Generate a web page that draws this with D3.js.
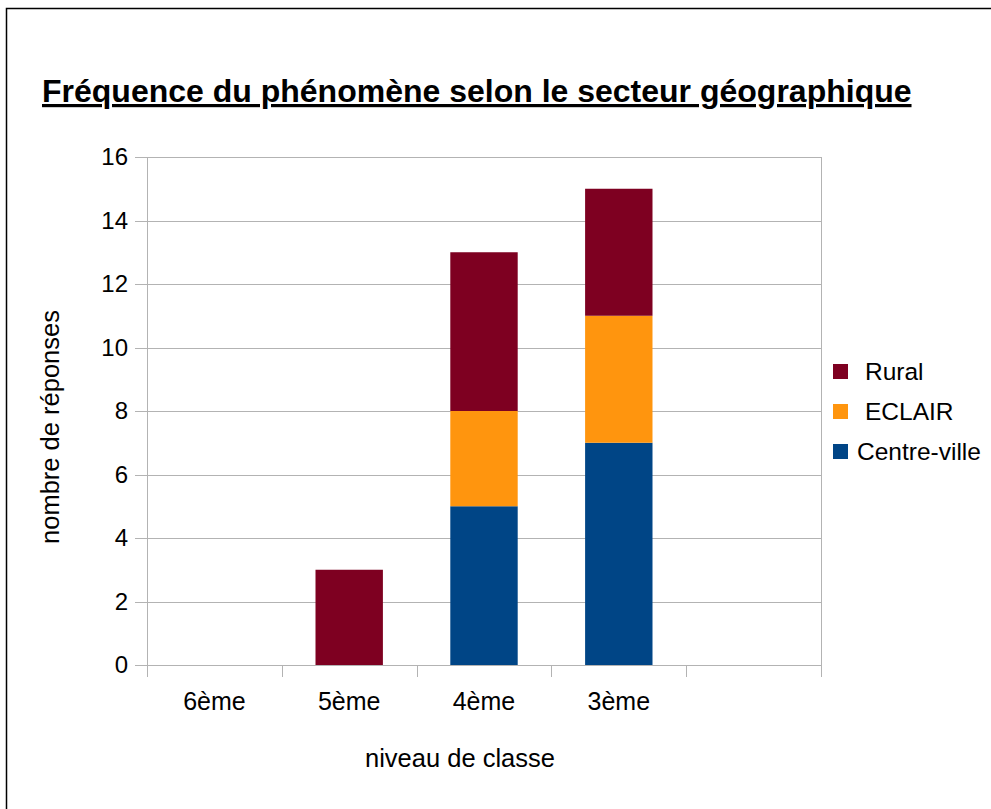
<!DOCTYPE html>
<html>
<head>
<meta charset="utf-8">
<script src="https://cdn.jsdelivr.net/npm/d3@7"></script>
<style>
  body { margin: 0; background: #fff; }
  text { font-family: "Liberation Sans", Arial, sans-serif; fill: #000; }
</style>
</head>
<body>
<div id="chart"></div>
<script>
// data
const categories = ["6ème", "5ème", "4ème", "3ème", ""]
const centreVille = [0, 0, 5, 7, 0]
const eclair = [0, 0, 3, 4, 0]
const rural = [0, 3, 5, 4, 0]
const seriesNames = ["Centre-ville", "ECLAIR", "Rural"]
const seriesColors = ["#004586", "#ff950e", "#7e0021"]
const yTicks = [0, 2, 4, 6, 8, 10, 12, 14, 16]

const outerWidth = 991
const outerHeight = 809
const margin = {top: 157, bottom: 144, left: 147, right: 170}
const width = outerWidth - margin.left - margin.right
const height = outerHeight - margin.top - margin.bottom

const svg = d3.select("#chart")
    .append("svg")
    .attr("width", outerWidth)
    .attr("height", outerHeight)

// frame (top and left edges only show)
svg.append("path")
    .attr("d", `M6.5,${outerHeight} V8.5 H${outerWidth}`)
    .attr("fill", "none")
    .attr("stroke", "#000")
    .attr("stroke-width", 1.5)

// title
svg.append("text")
    .attr("x", 42)
    .attr("y", 102)
    .style("font-size", "32px")
    .style("font-weight", "bold")
    .style("text-decoration", "underline")
    .text("Fréquence du phénomène selon le secteur géographique")

const g = svg.append("g")
    .attr("transform", `translate(${margin.left}, ${margin.top})`)

const x = d3.scaleBand()
    .domain(d3.range(categories.length))
    .range([0, width])
    .paddingInner(0.5)
    .paddingOuter(0.25)

const y = d3.scaleLinear()
    .domain([0, 16])
    .range([height, 0])

// gridlines
g.append("g")
    .selectAll("line")
    .data(yTicks)
    .join("line")
    .attr("x1", -12)
    .attr("x2", width)
    .attr("y1", d => Math.round(y(d)) + 0.5)
    .attr("y2", d => Math.round(y(d)) + 0.5)
    .attr("stroke", "#b3b3b3")

// plot borders left/right
g.append("g")
    .selectAll("line")
    .data([0, width])
    .join("line")
    .attr("x1", d => Math.round(d) + 0.5)
    .attr("x2", d => Math.round(d) + 0.5)
    .attr("y1", 0)
    .attr("y2", height)
    .attr("stroke", "#b3b3b3")

// category separator ticks
const step = x.step()
g.append("g")
    .selectAll("line")
    .data(d3.range(categories.length + 1))
    .join("line")
    .attr("x1", d => Math.round(d * step) + 0.5)
    .attr("x2", d => Math.round(d * step) + 0.5)
    .attr("y1", height)
    .attr("y2", height + 12)
    .attr("stroke", "#b3b3b3")

// y tick labels
g.append("g")
    .selectAll("text")
    .data(yTicks)
    .join("text")
    .attr("x", -19)
    .attr("y", d => y(d))
    .attr("dy", "0.35em")
    .attr("text-anchor", "end")
    .style("font-size", "24px")
    .text(d => d)

// x labels
g.append("g")
    .selectAll("text")
    .data(categories)
    .join("text")
    .attr("x", (d, i) => i * step + step / 2)
    .attr("y", height + 45)
    .attr("text-anchor", "middle")
    .style("font-size", "25px")
    .text(d => d)

// stacked bars
const rows = categories.map((c, i) => ({
    i: i,
    "Centre-ville": centreVille[i],
    "ECLAIR": eclair[i],
    "Rural": rural[i]
}))
const stack = d3.stack().keys(seriesNames)(rows)
const color = d3.scaleOrdinal().domain(seriesNames).range(seriesColors)

g.append("g")
    .selectAll("g")
    .data(stack)
    .join("g")
    .attr("fill", d => color(d.key))
    .selectAll("rect")
    .data(d => d.filter(v => v[1] > v[0]))
    .join("rect")
    .attr("x", d => x(d.data.i))
    .attr("width", x.bandwidth())
    .attr("y", d => y(d[1]))
    .attr("height", d => y(d[0]) - y(d[1]))

// axis titles
svg.append("text")
    .attr("x", margin.left + width / 2 - 24)
    .attr("y", 767)
    .attr("text-anchor", "middle")
    .style("font-size", "25.5px")
    .text("niveau de classe")

svg.append("text")
    .attr("transform", `translate(59, ${margin.top + height / 2 + 16}) rotate(-90)`)
    .attr("text-anchor", "middle")
    .style("font-size", "25.5px")
    .text("nombre de réponses")

// legend, Rural on top
const legendNames = seriesNames.slice().reverse()
const legend = svg.append("g")
    .selectAll("g")
    .data(legendNames)
    .join("g")
    .attr("transform", (d, i) => `translate(833, ${364 + i * 40})`)

legend.append("rect")
    .attr("width", 15)
    .attr("height", 15)
    .attr("fill", d => color(d))

legend.append("text")
    .attr("x", d => d === "Centre-ville" ? 24 : 32)
    .attr("y", 16)
    .style("font-size", "24.5px")
    .text(d => d)
</script>
</body>
</html>
